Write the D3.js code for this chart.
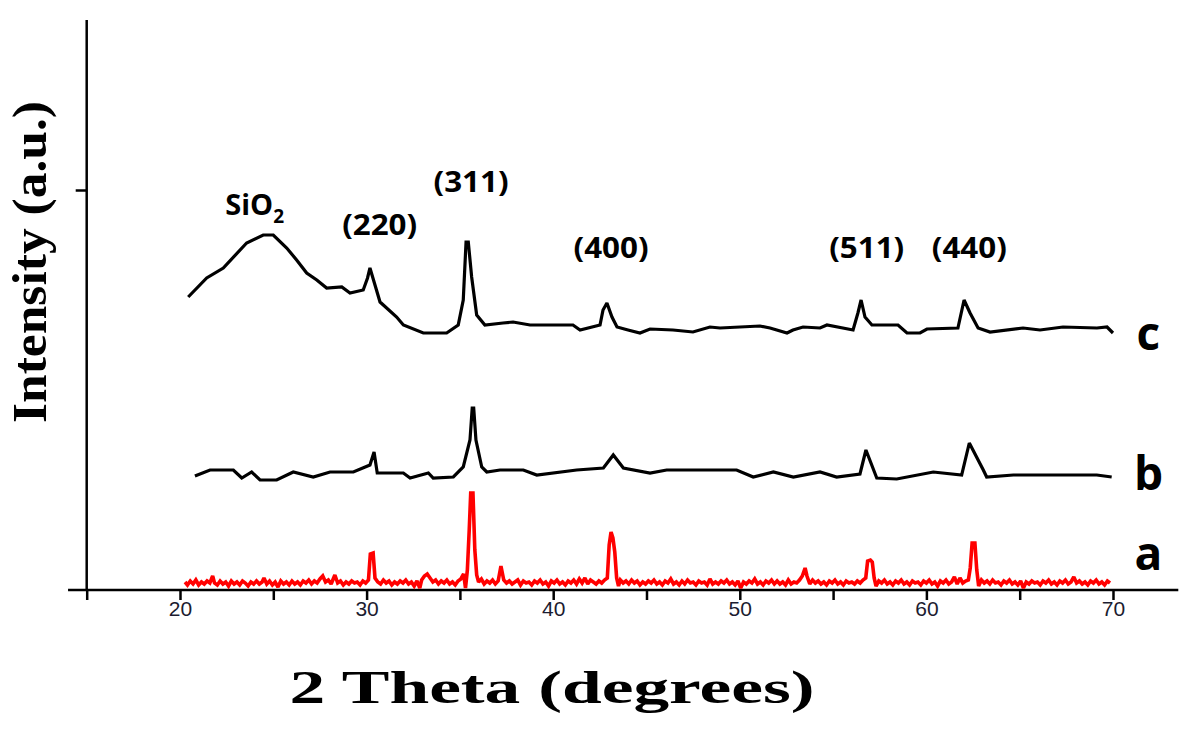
<!DOCTYPE html>
<html>
<head>
<meta charset="utf-8">
<script src="https://cdn.jsdelivr.net/npm/d3@7/dist/d3.min.js"></script>
<style>
  html, body { margin: 0; padding: 0; background: #fff; }
  svg { display: block; }
</style>
</head>
<body>
<svg id="chart" width="1200" height="738"></svg>
<script>
// ---- DATA (2θ in degrees, intensity in a.u., already stacked as plotted) ----
const seriesNames = ["a", "b", "c"];
const xTickValues = [15, 20, 25, 30, 35, 40, 45, 50, 55, 60, 65, 70];
const xTickLabels = ["", "20", "", "30", "", "40", "", "50", "", "60", "", "70"];
const yTickValues = [400];

const peakLabels = ["SiO", "(220)", "(311)", "(400)", "(511)", "(440)"];
const peakLabelX = [24.0, 30.7, 35.6, 43.1, 56.8, 62.3];
const peakLabelY = [375, 355, 398, 332, 332, 332];

const seriesC = [
  [20.44,293],[21.43,312],[22.32,322],[23.57,347],[24.46,355],[25.00,355],[25.72,342],
  [26.25,330],[26.79,317],[27.33,310],[27.86,302],[28.67,303],[29.11,297],[29.82,300],
  [30.05,312],[30.18,322],[30.45,305],[30.72,288],[31.61,273],[31.97,265],[33.04,257],
  [34.29,257],[34.91,265],[35.18,290],[35.33,348],[35.45,348],[35.63,313],[35.90,275],
  [36.34,265],[37.31,267],[37.85,268],[38.76,265],[41.06,265],[41.44,260],[42.51,265],
  [42.67,280],[42.88,287],[43.15,273],[43.42,263],[44.01,260],[44.65,257],[45.19,261],
  [46.42,260],[47.49,258],[48.40,263],[48.94,262],[51.08,264],[51.62,262],[52.53,257],
  [52.85,260],[53.39,263],[54.30,262],[54.67,265],[56.07,260],[56.33,277],[56.50,290],
  [56.71,273],[57.08,265],[58.48,265],[58.96,257],[59.66,257],[60.03,261],[61.69,262],
  [62.02,290],[62.34,277],[62.77,262],[63.41,258],[65.18,262],[66.09,260],[67.32,263],
  [69.14,262],[69.68,263],[70.00,257]
];

const seriesB = [
  [20.80,114],[21.61,120],[22.86,120],[23.31,112],[23.84,118],[24.29,110],[25.18,110],
  [26.07,118],[27.14,113],[28.04,118],[29.29,118],[30.18,125],[30.40,138],[30.57,117],
  [31.97,117],[32.33,112],[33.31,117],[33.57,112],[34.65,113],[35.18,123],[35.54,150],
  [35.66,182],[35.74,182],[35.86,150],[36.17,123],[36.44,118],[37.15,120],[38.40,120],
  [39.12,115],[41.26,120],[42.69,122],[43.22,135],[43.76,122],[45.19,117],[46.08,120],
  [47.69,120],[49.83,120],[50.72,113],[51.80,118],[52.87,113],[54.30,118],[55.19,113],
  [56.44,116],[56.76,140],[57.34,112],[58.41,111],[60.37,118],[61.89,115],[62.30,147],
  [63.05,120],[63.23,113],[64.66,115],[66.62,115],[69.13,115],[69.93,113]
];

const seriesA = [
  [20.27,8],[20.40,5],[20.55,9],[20.70,6],[20.85,10],[21.00,5],[21.15,8],[21.30,6],[21.45,9],
  [21.60,7],[21.75,14],[21.85,7],[22.00,5],[22.15,9],[22.30,6],[22.45,8],[22.60,4],[22.75,9],
  [22.90,6],[23.05,8],[23.20,5],[23.35,9],[23.50,7],[23.65,4],[23.80,8],[23.95,6],[24.10,9],
  [24.25,6],[24.40,8],[24.50,12],[24.65,6],[24.80,9],[24.95,5],[25.10,8],[25.25,3],[25.40,9],
  [25.55,6],[25.70,8],[25.85,5],[26.00,9],[26.15,6],[26.30,8],[26.45,5],[26.60,9],[26.75,7],
  [26.90,10],[27.05,6],[27.20,9],[27.35,7],[27.50,11],[27.65,14],[27.80,8],[27.95,10],[28.10,6],
  [28.30,15],[28.45,7],[28.60,9],[28.75,5],[28.90,8],[29.05,6],[29.20,9],[29.35,7],[29.50,8],
  [29.65,5],[29.80,9],[29.95,7],[30.10,10],[30.20,36],[30.35,37],[30.45,12],[30.60,8],[30.75,6],
  [30.90,10],[31.05,7],[31.20,9],[31.35,5],[31.50,8],[31.65,6],[31.80,9],[31.95,7],[32.10,10],
  [32.25,6],[32.40,8],[32.55,4],[32.70,9],[32.85,2],[32.95,10],[33.10,14],[33.25,16],[33.40,12],
  [33.55,8],[33.70,10],[33.85,6],[34.00,9],[34.15,7],[34.30,10],[34.45,6],[34.60,8],[34.75,5],
  [34.90,9],[35.05,11],[35.20,16],[35.30,2],[35.40,20],[35.50,60],[35.58,97],[35.70,97],[35.80,40],
  [35.90,15],[36.00,8],[36.15,11],[36.30,6],[36.45,9],[36.60,7],[36.75,10],[36.90,6],[37.05,9],
  [37.20,24],[37.35,10],[37.50,7],[37.65,9],[37.80,6],[37.95,8],[38.10,10],[38.25,5],[38.40,9],
  [38.55,7],[38.70,8],[38.85,5],[39.00,9],[39.15,7],[39.30,10],[39.45,6],[39.60,8],[39.75,4],
  [39.90,9],[40.05,7],[40.20,10],[40.35,6],[40.50,8],[40.65,5],[40.80,9],[40.95,7],[41.10,10],
  [41.25,6],[41.40,11],[41.55,7],[41.70,12],[41.85,6],[42.00,10],[42.15,8],[42.30,6],[42.45,9],
  [42.60,7],[42.75,10],[42.90,12],[43.00,45],[43.10,58],[43.20,52],[43.30,38],[43.40,12],[43.50,4],
  [43.60,10],[43.75,7],[43.90,9],[44.05,6],[44.20,10],[44.35,7],[44.50,9],[44.65,5],[44.80,8],
  [44.95,6],[45.10,9],[45.25,7],[45.40,10],[45.55,6],[45.70,8],[45.85,5],[46.00,9],[46.15,7],
  [46.30,11],[46.45,6],[46.60,8],[46.75,5],[46.90,9],[47.05,6],[47.20,10],[47.35,7],[47.50,8],
  [47.65,5],[47.80,9],[47.95,7],[48.10,8],[48.25,5],[48.40,11],[48.55,6],[48.70,8],[48.85,6],
  [49.00,9],[49.15,7],[49.30,10],[49.45,6],[49.60,8],[49.75,5],[49.90,9],[50.05,2],[50.20,8],
  [50.35,6],[50.50,9],[50.65,7],[50.80,11],[50.95,6],[51.10,8],[51.25,5],[51.40,9],[51.55,7],
  [51.70,10],[51.85,6],[52.00,9],[52.15,6],[52.30,8],[52.45,5],[52.60,10],[52.75,6],[52.90,8],
  [53.05,7],[53.20,10],[53.35,14],[53.50,22],[53.60,14],[53.75,6],[53.90,10],[54.05,7],[54.20,9],
  [54.35,6],[54.50,8],[54.65,5],[54.80,9],[54.95,7],[55.10,10],[55.25,6],[55.40,8],[55.55,5],
  [55.70,9],[55.85,7],[56.00,8],[56.15,6],[56.30,9],[56.45,7],[56.60,10],[56.75,12],[56.85,29],
  [57.00,30],[57.10,28],[57.20,12],[57.30,4],[57.45,9],[57.60,7],[57.75,10],[57.90,6],[58.05,8],
  [58.20,5],[58.35,9],[58.50,7],[58.65,10],[58.80,6],[58.95,8],[59.10,5],[59.25,9],[59.40,7],
  [59.55,8],[59.70,5],[59.85,9],[60.00,7],[60.15,10],[60.30,6],[60.45,8],[60.60,4],[60.75,9],
  [60.90,7],[61.05,10],[61.20,6],[61.35,8],[61.50,13],[61.65,6],[61.80,12],[61.95,7],[62.10,9],
  [62.25,10],[62.35,22],[62.45,47],[62.60,47],[62.70,20],[62.80,4],[62.95,10],[63.10,7],[63.25,9],
  [63.40,6],[63.55,10],[63.70,7],[63.85,8],[64.00,5],[64.15,9],[64.30,7],[64.45,10],[64.60,6],
  [64.75,8],[64.90,5],[65.05,9],[65.20,2],[65.35,8],[65.50,6],[65.65,9],[65.80,7],[65.95,8],
  [66.10,5],[66.25,9],[66.40,7],[66.55,10],[66.70,6],[66.85,8],[67.00,5],[67.15,9],[67.30,7],
  [67.45,10],[67.60,6],[67.75,8],[67.90,13],[68.05,7],[68.20,9],[68.35,6],[68.50,8],[68.65,5],
  [68.80,9],[68.95,7],[69.10,10],[69.25,6],[69.40,8],[69.55,5],[69.70,9],[69.84,7]
];

const seriesLabelX = [71.9, 71.9, 71.9];
const seriesLabelY = [20, 100, 240];
const seriesColors = ["#ff0000", "#000000", "#000000"];

// ---- CHART ----
const svg = d3.select("#chart");
const x = d3.scaleLinear().domain([15, 73.5]).range([86.7, 1178.3]);
const y = d3.scaleLinear().domain([0, 570]).range([590, 20]);

const line = d3.line().x(d => x(d[0])).y(d => y(d[1]));

// axes lines
svg.append("line").attr("x1", x(14)).attr("x2", x(73.5)).attr("y1", y(0)).attr("y2", y(0))
  .attr("stroke", "#000").attr("stroke-width", 2.5);
svg.append("line").attr("x1", x(15)).attr("x2", x(15)).attr("y1", y(0)).attr("y2", y(570))
  .attr("stroke", "#000").attr("stroke-width", 2.5);

const xAxis = d3.axisBottom(x).tickValues(xTickValues)
  .tickFormat((d, i) => xTickLabels[i]).tickSize(10).tickPadding(1);
const gx = svg.append("g").attr("transform", `translate(0,${y(0)})`).call(xAxis);
gx.select(".domain").remove();
gx.selectAll(".tick line").attr("stroke", "#000").attr("stroke-width", 2.5);
gx.selectAll(".tick text").attr("font-family", "Liberation Sans, Arial, sans-serif")
  .attr("font-size", 21).attr("fill", "#1c1c30");

const yAxis = d3.axisLeft(y).tickValues(yTickValues).tickFormat("").tickSize(11);
const gy = svg.append("g").attr("transform", `translate(${x(15)},0)`).call(yAxis);
gy.select(".domain").remove();
gy.selectAll(".tick line").attr("stroke", "#000").attr("stroke-width", 2.5);

// series
const allSeries = [seriesA, seriesB, seriesC];
allSeries.forEach((s, i) => {
  svg.append("path").datum(s).attr("d", line).attr("fill", "none")
    .attr("stroke", seriesColors[i]).attr("stroke-width", i === 0 ? 3.6 : 3.2)
    .attr("stroke-linejoin", "miter").attr("stroke-miterlimit", 2);
});

// series labels
seriesNames.forEach((n, i) => {
  svg.append("text").attr("x", x(seriesLabelX[i])).attr("y", y(seriesLabelY[i]))
    .attr("text-anchor", "middle").attr("font-family", "Open Sans, sans-serif")
    .attr("font-weight", 700).attr("font-size", 46).attr("fill", "#000").text(n);
});

// peak labels
peakLabels.forEach((t, i) => {
  const txt = svg.append("text").attr("x", x(peakLabelX[i])).attr("y", y(peakLabelY[i]))
    .attr("text-anchor", "middle").attr("font-family", "Open Sans, sans-serif")
    .attr("font-weight", 700).attr("font-size", 29).attr("fill", "#000");
  if (t === "SiO") {
    txt.append("tspan").text("SiO");
    txt.append("tspan").attr("font-size", 19).attr("dy", 8).text("2");
  } else {
    txt.attr("textLength", 75).attr("lengthAdjust", "spacingAndGlyphs").text(t);
  }
});

// axis titles
svg.append("text").attr("x", 552).attr("y", 703).attr("text-anchor", "middle")
  .attr("font-family", "Liberation Serif, Times New Roman, serif").attr("font-weight", 700)
  .attr("font-size", 46).attr("textLength", 525).attr("lengthAdjust", "spacingAndGlyphs")
  .text("2 Theta (degrees)");
svg.append("text").attr("transform", "translate(46,262) rotate(-90)").attr("text-anchor", "middle")
  .attr("font-family", "Liberation Serif, Times New Roman, serif").attr("font-weight", 700)
  .attr("font-size", 48).attr("textLength", 322).attr("lengthAdjust", "spacingAndGlyphs")
  .text("Intensity (a.u.)");
</script>
</body>
</html>
